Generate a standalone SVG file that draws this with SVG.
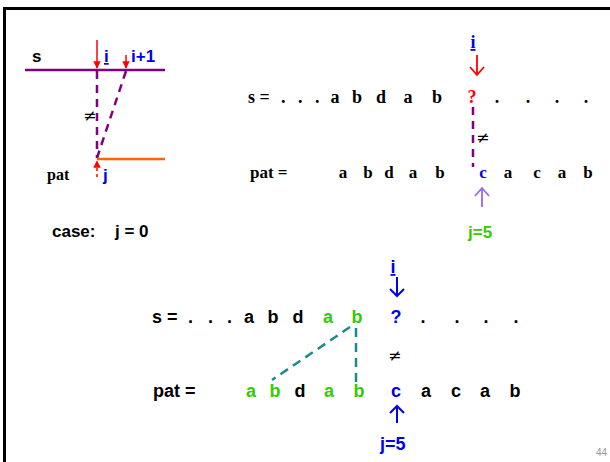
<svg xmlns="http://www.w3.org/2000/svg" width="610" height="462" viewBox="0 0 610 462">
<defs>
<style>
.sans{font-family:"Liberation Sans",Arial,sans-serif;font-weight:bold}
.serif{font-family:"Liberation Serif","Times New Roman",serif;font-weight:bold}
.blk{fill:#000}
.blue{fill:#0000ee}
.grn{fill:#33cc00}
.red{fill:#ff0000}
.ne{font-family:"DejaVu Sans",sans-serif;font-size:16px;fill:#000}
</style>
<marker id="ahRed" viewBox="0 0 10 10" refX="9" refY="5" markerWidth="5" markerHeight="5" orient="auto"><path d="M0,0 L10,5 L0,10 z" fill="#ff0000"/></marker>
</defs>
<rect width="610" height="462" fill="#fff"/>
<path d="M4.5,462 V8.5 H610" fill="none" stroke="#000" stroke-width="3"/>

<g id="connectors">
  <line x1="25" y1="70" x2="165" y2="70" stroke="#800080" stroke-width="2.5"/>
  <line x1="97" y1="40" x2="97" y2="68" stroke="#ff0000" stroke-width="1.5" marker-end="url(#ahRed)"/>
  <line x1="126" y1="55" x2="126" y2="68" stroke="#ff0000" stroke-width="1.5" marker-end="url(#ahRed)"/>
  <line x1="97" y1="71" x2="97" y2="158" stroke="#800080" stroke-width="2.5" stroke-dasharray="8,6"/>
  <line x1="126" y1="71" x2="97" y2="158" stroke="#800080" stroke-width="2.5" stroke-dasharray="8,6"/>
  <line x1="97" y1="159" x2="165" y2="159" stroke="#ff6600" stroke-width="2.5"/>
  <line x1="97" y1="177" x2="97" y2="161" stroke="#ff0000" stroke-width="1.5" stroke-dasharray="3,3" marker-end="url(#ahRed)"/>
  <line x1="473" y1="107" x2="473" y2="167" stroke="#800080" stroke-width="2.5" stroke-dasharray="8,6"/>
  <path d="M477,55 V75 M470,67 L477,75 L484,67" fill="none" stroke="#ff0000" stroke-width="1.8"/>
  <path d="M482,207 V188 M475,196 L482,188 L489,196" fill="none" stroke="#9966ff" stroke-width="1.8"/>
  <path d="M397,277 V296 M390,289 L397,296 L404,289" fill="none" stroke="#0000ee" stroke-width="2"/>
  <path d="M397,423 V406 M390,413 L397,406 L404,413" fill="none" stroke="#0000ee" stroke-width="2"/>
  <line x1="350" y1="327" x2="272" y2="380" stroke="#1a8a8a" stroke-width="2.5" stroke-dasharray="9,6"/>
  <line x1="356" y1="328" x2="356" y2="383" stroke="#1a8a8a" stroke-width="2.5" stroke-dasharray="9,6"/>
</g>

<g id="case0">
  <text class="sans blk" x="32" y="62" font-size="17">s</text>
  <text class="sans blue" x="104" y="62" font-size="17" text-decoration="underline">i</text>
  <text class="sans blue" x="131" y="62" font-size="17">i+1</text>
  <text class="ne" x="83" y="121">≠</text>
  <text class="serif blk" x="47" y="180" font-size="16">pat</text>
  <text class="sans blue" x="103" y="181" font-size="17">j</text>
  <text class="sans blk" font-size="17" y="237"><tspan x="52">case:</tspan><tspan x="115">j = 0</tspan></text>
</g>

<g id="caseTopRight">
  <text class="serif blue" x="473" y="48" font-size="18" text-anchor="middle" text-decoration="underline">i</text>
  <text class="serif blk" font-size="18" y="103"><tspan x="248">s =</tspan><tspan x="281">.</tspan><tspan x="298">.</tspan><tspan x="315">.</tspan></text>
  <text class="serif blk" font-size="18" y="103" text-anchor="middle"><tspan x="335">a</tspan><tspan x="357">b</tspan><tspan x="381">d</tspan><tspan x="408">a</tspan><tspan x="437">b</tspan><tspan class="red" x="472">?</tspan><tspan x="497">.</tspan><tspan x="528">.</tspan><tspan x="557">.</tspan><tspan x="586">.</tspan></text>
  <text class="ne" x="476" y="143">≠</text>
  <text class="serif blk" font-size="17" y="178"><tspan x="250">pat =</tspan></text>
  <text class="serif blk" font-size="17" y="178" text-anchor="middle"><tspan x="343">a</tspan><tspan x="368">b</tspan><tspan x="389">d</tspan><tspan x="413">a</tspan><tspan x="440">b</tspan><tspan class="blue" x="483">c</tspan><tspan x="508">a</tspan><tspan x="537">c</tspan><tspan x="562">a</tspan><tspan x="588">b</tspan></text>
  <text class="sans grn" x="468" y="238" font-size="17">j=5</text>
</g>

<g id="caseBottom">
  <text class="sans blue" x="393" y="273" font-size="18" text-anchor="middle" text-decoration="underline">i</text>
  <text class="sans blk" font-size="18" y="323"><tspan x="152">s =</tspan><tspan x="188">.</tspan><tspan x="208">.</tspan><tspan x="227">.</tspan></text>
  <text class="sans blk" font-size="18" y="323" text-anchor="middle"><tspan x="249">a</tspan><tspan x="273">b</tspan><tspan x="298">d</tspan><tspan class="grn" x="328">a</tspan><tspan class="grn" x="357">b</tspan><tspan class="blue" x="396">?</tspan><tspan x="423">.</tspan><tspan x="457">.</tspan><tspan x="486">.</tspan><tspan x="516">.</tspan></text>
  <text class="ne" x="388" y="361">≠</text>
  <text class="sans blk" font-size="18" y="397"><tspan x="153">pat =</tspan></text>
  <text class="sans blk" font-size="18" y="397" text-anchor="middle"><tspan class="grn" x="251">a</tspan><tspan class="grn" x="275">b</tspan><tspan x="300">d</tspan><tspan class="grn" x="329">a</tspan><tspan class="grn" x="359">b</tspan><tspan class="blue" x="396">c</tspan><tspan x="426">a</tspan><tspan x="456">c</tspan><tspan x="485">a</tspan><tspan x="515">b</tspan></text>
  <text class="sans blue" x="380" y="450" font-size="18">j=5</text>
</g>

<text x="596" y="456" font-family="'Liberation Sans',Arial,sans-serif" font-size="10" fill="#999">44</text>
</svg>
